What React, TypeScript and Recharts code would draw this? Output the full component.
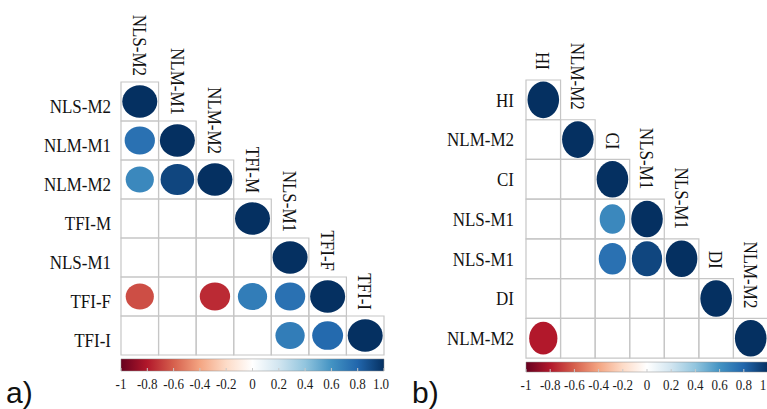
import { ScatterChart, Scatter, XAxis, YAxis, ReferenceArea } from 'recharts';

const SERIF = "'Liberation Serif', 'DejaVu Serif', 'Times New Roman', Times, serif";
const SANS = "'Liberation Sans', Arial, sans-serif";

// corrplot RdBu palette, -1 .. 1 in steps of 0.2
const RDBU = ['#67001F', '#B2182B', '#D6604D', '#F4A582', '#FDDBC7', '#FFFFFF',
  '#D1E5F0', '#92C5DE', '#4393C3', '#2166AC', '#053061'];

const VARS_A = ['NLS-M2', 'NLM-M1', 'NLM-M2', 'TFI-M', 'NLS-M1', 'TFI-F', 'TFI-I'];
const CORR_A: (number | null)[][] = [
  [1],
  [0.75, 1],
  [0.65, 0.92, 1],
  [null, null, null, 1],
  [null, null, null, null, 1],
  [-0.65, null, -0.75, 0.7, 0.75, 1],
  [null, null, null, null, 0.7, 0.78, 1],
];

const VARS_B = ['HI', 'NLM-M2', 'CI', 'NLS-M1', 'NLS-M1', 'DI', 'NLM-M2'];
const CORR_B: (number | null)[][] = [
  [1],
  [null, 1],
  [null, null, 1],
  [null, null, 0.65, 1],
  [null, null, 0.75, 0.92, 1],
  [null, null, null, null, null, 1],
  [-0.8, null, null, null, null, null, 1],
];

const BAR_TICKS = [-1, -0.8, -0.6, -0.4, -0.2, 0, 0.2, 0.4, 0.6, 0.8, 1];
const BAR_LABELS_A = ['-1', '-0.8', '-0.6', '-0.4', '-0.2', '0', '0.2', '0.4', '0.6', '0.8', '1.0'];
const BAR_LABELS_B = ['-1', '-0.8', '-0.6', '-0.4', '-0.2', '0', '0.2', '0.4', '0.6', '0.8', '1'];

const ROW_TICKS = [1, 2, 3, 4, 5, 6, 7];

function hexToRgb(h: string) {
  return [1, 3, 5].map(i => parseInt(h.slice(i, i + 2), 16));
}

function corrColor(v: number) {
  const t = ((v + 1) / 2) * (RDBU.length - 1);
  const i = Math.min(RDBU.length - 2, Math.floor(t));
  const f = t - i;
  const a = hexToRgb(RDBU[i]);
  const b = hexToRgb(RDBU[i + 1]);
  const c = a.map((x, k) => Math.round(x + (b[k] - x) * f));
  return `rgb(${c[0]},${c[1]},${c[2]})`;
}

interface PanelCfg {
  id: string;
  vars: string[];
  corr: (number | null)[][];
  barLabels: string[];
  width: number;
  margin: { top: number; right: number; bottom: number; left: number };
  yAxisWidth: number;
  yMax: number;
  barY: [number, number];
  rx: number;
  ry: number;
  rowDy: number;
  rowMargin: number;
  colGap: number;
  lastTickShift: number;
}

const PANEL_A: PanelCfg = {
  id: 'a', vars: VARS_A, corr: CORR_A, barLabels: BAR_LABELS_A,
  width: 400, margin: { top: 82, right: 16, bottom: 8, left: 0 },
  yAxisWidth: 121, yMax: 7.91, barY: [7.6, 7.91],
  rx: 17.5, ry: 16.2, rowDy: 5, rowMargin: 4, colGap: 6, lastTickShift: -3,
};

const PANEL_B: PanelCfg = {
  id: 'b', vars: VARS_B, corr: CORR_B, barLabels: BAR_LABELS_B,
  width: 368, margin: { top: 80, right: 0, bottom: 7, left: 0 },
  yAxisWidth: 126, yMax: 7.85, barY: [7.6, 7.85],
  rx: 15.8, ry: 18.3, rowDy: 0, rowMargin: 6, colGap: 10, lastTickShift: -5,
};

function Panel({ cfg }: { cfg: PanelCfg }) {
  const cells: { x: number; y: number }[] = [];
  const points: { x: number; y: number; r: number }[] = [];
  cfg.corr.forEach((row, i) => {
    for (let j = 0; j <= i; j++) {
      cells.push({ x: j + 1, y: i + 1 });
      const v = row[j];
      if (v != null) points.push({ x: j + 1, y: i + 1, r: v });
    }
  });
  const colLabels = cfg.vars.map((name, i) => ({ x: i + 1, y: i + 0.5, name }));
  const barMarks = BAR_TICKS.map(v => ({ b: v, y: cfg.barY[1] }));

  return (
    <ScatterChart width={cfg.width} height={409} margin={cfg.margin}>
      <defs>
        <linearGradient id={`rdbu-${cfg.id}`} x1="0" y1="0" x2="1" y2="0">
          {RDBU.map((c, i) => <stop key={i} offset={`${i * 10}%`} stopColor={c} />)}
        </linearGradient>
      </defs>
      <XAxis xAxisId="cell" type="number" dataKey="x" domain={[0.5, 7.5]} hide />
      <XAxis
        xAxisId="cb"
        type="number"
        dataKey="b"
        domain={[-1, 1]}
        ticks={BAR_TICKS}
        axisLine={false}
        tickLine={false}
        tickMargin={1}
        interval={0}
        height={30}
        tick={(p: any) => {
          const idx = BAR_TICKS.findIndex(t => Math.abs(t - p.payload.value) < 1e-6);
          const shift = idx === BAR_TICKS.length - 1 ? cfg.lastTickShift : 0;
          return (
            <g transform={`translate(${p.x + shift},${p.y}) scale(1,1.15)`}>
              <text x={0} y={0} dy="0.71em" textAnchor="middle" fill="#1a1a1a"
                style={{ fontFamily: SERIF, fontSize: 13 }}>
                {cfg.barLabels[idx]}
              </text>
            </g>
          );
        }}
      />
      <YAxis
        type="number"
        dataKey="y"
        domain={[0.5, cfg.yMax]}
        reversed
        ticks={ROW_TICKS}
        interval={0}
        width={cfg.yAxisWidth}
        axisLine={false}
        tickLine={false}
        tickMargin={cfg.rowMargin}
        tick={(p: any) => (
          <g transform={`translate(${p.x},${p.y + cfg.rowDy}) scale(1,1.15)`}>
            <text x={0} y={0} dy="0.35em" textAnchor="end" fill="#111"
              style={{ fontFamily: SERIF, fontSize: 17 }}>
              {cfg.vars[p.payload.value - 1]}
            </text>
          </g>
        )}
      />
      {cells.map(c => (
        <ReferenceArea
          key={`${c.x}-${c.y}`}
          xAxisId="cell"
          x1={c.x - 0.5}
          x2={c.x + 0.5}
          y1={c.y - 0.5}
          y2={c.y + 0.5}
          fill="none"
          stroke="#c6c6c6"
          strokeWidth={1.2}
          ifOverflow="visible"
        />
      ))}
      <ReferenceArea
        xAxisId="cb"
        x1={-1}
        x2={1}
        y1={cfg.barY[0]}
        y2={cfg.barY[1]}
        fill={`url(#rdbu-${cfg.id})`}
        fillOpacity={1}
        stroke="#8a8a8a"
        strokeWidth={0.5}
        ifOverflow="visible"
      />
      {/* faint tick notches along the bottom of the colour bar */}
      <Scatter
        xAxisId="cb"
        data={barMarks}
        isAnimationActive={false}
        shape={(p: any) => (
          <line x1={p.cx} x2={p.cx} y1={p.cy - 3} y2={p.cy} stroke="#c9c9c9" strokeWidth={1} />
        )}
      />
      <Scatter
        xAxisId="cell"
        data={points}
        isAnimationActive={false}
        shape={(p: any) => {
          const s = Math.sqrt(Math.abs(p.payload.r));
          return (
            <ellipse cx={p.cx} cy={p.cy} rx={cfg.rx * s} ry={cfg.ry * s} fill={corrColor(p.payload.r)} />
          );
        }}
      />
      <Scatter
        xAxisId="cell"
        data={colLabels}
        isAnimationActive={false}
        shape={(p: any) => (
          <g transform={`translate(${p.cx},${p.cy - cfg.colGap}) rotate(90) scale(1,1.15)`}>
            <text x={0} y={0} dy="0.35em" textAnchor="end" fill="#111"
              style={{ fontFamily: SERIF, fontSize: 17 }}>
              {p.payload.name}
            </text>
          </g>
        )}
      />
    </ScatterChart>
  );
}

export default function App() {
  return (
    <div style={{ position: 'absolute', left: 0, top: 0, width: 767, height: 409, overflow: 'hidden', background: '#fff' }}>
      <div style={{ position: 'absolute', left: 0, top: 0 }}>
        <Panel cfg={PANEL_A} />
      </div>
      <div style={{ position: 'absolute', left: 400, top: 0 }}>
        <Panel cfg={PANEL_B} />
      </div>
      <div style={{ position: 'absolute', left: 6, top: 378, fontFamily: SANS, fontSize: 30, lineHeight: '30px', color: '#111' }}>a)</div>
      <div style={{ position: 'absolute', left: 412, top: 378, fontFamily: SANS, fontSize: 30, lineHeight: '30px', color: '#111' }}>b)</div>
    </div>
  );
}
